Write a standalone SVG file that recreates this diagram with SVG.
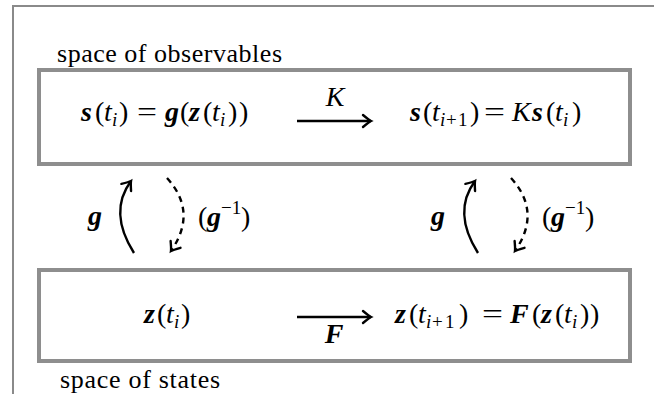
<svg xmlns="http://www.w3.org/2000/svg" width="654" height="394" viewBox="0 0 654 394">
<style>
text{font-family:"Liberation Serif","DejaVu Serif",serif;fill:#000}
.m{font-size:28px}
.bi{font-weight:bold;font-style:italic}
.it{font-style:italic}
.sub{font-size:19px}
.lbl{font-size:26px}
.box{fill:#fff;stroke:#8e8e8e;stroke-width:4}
.frame{fill:none;stroke:#8a8a8a;stroke-width:2}
.arr{fill:none;stroke:#000;stroke-width:2.4;marker-end:url(#head)}
.dash{stroke-dasharray:6 5}
</style>
<defs>
<marker id="head" markerUnits="userSpaceOnUse" markerWidth="16" markerHeight="16" viewBox="-11 -8 16 16" refX="0" refY="0" orient="auto">
<path d="M-8,-6 Q-2,-1 0,0 Q-2,1 -8,6" fill="none" stroke="#000" stroke-width="2.4" stroke-linecap="round"/>
</marker>
</defs>
<rect width="654" height="394" fill="#fff"/>
<path class="frame" d="M13,394 V6 H654"/>

<g id="observables">
<text class="lbl" x="57" y="62" textLength="225">space of observables</text>
<rect class="box" x="39" y="70" width="591" height="94"/>
<text class="m" y="121">
<tspan class="bi" x="81">s</tspan><tspan x="95">(</tspan><tspan class="it" x="104">t</tspan><tspan class="it sub" x="112" y="126">i</tspan><tspan x="119" y="121">)</tspan>
</text>
<text class="m" x="137" y="121" textLength="20" lengthAdjust="spacingAndGlyphs">=</text>
<text class="m" y="121">
<tspan class="bi" x="165">g</tspan><tspan x="180">(</tspan><tspan class="bi" x="189">z</tspan><tspan x="203">(</tspan><tspan class="it" x="212">t</tspan><tspan class="it sub" x="220" y="126">i</tspan><tspan x="228" y="121">)</tspan><tspan x="239">)</tspan>
</text>
<text class="m" y="121">
<tspan class="bi" x="410">s</tspan><tspan x="423">(</tspan><tspan class="it" x="432">t</tspan><tspan class="sub" y="126"><tspan class="it" x="440">i</tspan><tspan x="446">+</tspan><tspan x="458">1</tspan></tspan><tspan x="470" y="121">)</tspan>
</text>
<text class="m" x="484" y="121" textLength="21" lengthAdjust="spacingAndGlyphs">=</text>
<text class="m" y="121">
<tspan class="it" x="512">K</tspan><tspan class="bi" x="532">s</tspan><tspan x="546">(</tspan><tspan class="it" x="555">t</tspan><tspan class="it sub" x="563" y="126">i</tspan><tspan x="572" y="121">)</tspan>
</text>
</g>

<g id="states">
<rect class="box" x="39" y="270" width="591" height="91"/>
<text class="lbl" x="60" y="388" textLength="160">space of states</text>
<text class="m" y="323">
<tspan class="bi" x="144">z</tspan><tspan x="157">(</tspan><tspan class="it" x="166">t</tspan><tspan class="it sub" x="174" y="328">i</tspan><tspan x="181" y="323">)</tspan>
</text>
<text class="m" y="323">
<tspan class="bi" x="395">z</tspan><tspan x="409">(</tspan><tspan class="it" x="418">t</tspan><tspan class="sub" y="328"><tspan class="it" x="426">i</tspan><tspan x="432">+</tspan><tspan x="445">1</tspan></tspan><tspan x="459" y="323">)</tspan>
</text>
<text class="m" x="482" y="323" textLength="21" lengthAdjust="spacingAndGlyphs">=</text>
<text class="m" y="323">
<tspan class="bi" x="510">F</tspan><tspan x="532">(</tspan><tspan class="bi" x="541">z</tspan><tspan x="555">(</tspan><tspan class="it" x="564">t</tspan><tspan class="it sub" x="572" y="328">i</tspan><tspan x="580" y="323">)</tspan><tspan x="590">)</tspan>
</text>
</g>

<g id="connectors">
<path class="arr" d="M297,121 H371"/>
<text class="m it" x="335" y="106" text-anchor="middle">K</text>
<path class="arr" d="M297,317 H371"/>
<text class="m bi" x="334" y="343" text-anchor="middle">F</text>

<path class="arr" d="M134,253 Q108,212 131,181"/>
<path class="arr dash" d="M167,178 Q198,212 171,251"/>
<text class="m bi" x="88" y="225">g</text>
<text class="m" y="226"><tspan x="198">(</tspan><tspan class="bi" x="207">g</tspan><tspan class="sub" x="221" y="214">−1</tspan><tspan x="241" y="226">)</tspan></text>

<path class="arr" d="M478,253 Q452,212 475,181"/>
<path class="arr dash" d="M511,178 Q542,212 515,251"/>
<text class="m bi" x="431" y="225">g</text>
<text class="m" y="226"><tspan x="542">(</tspan><tspan class="bi" x="551">g</tspan><tspan class="sub" x="565" y="214">−1</tspan><tspan x="585" y="226">)</tspan></text>
</g>
</svg>
